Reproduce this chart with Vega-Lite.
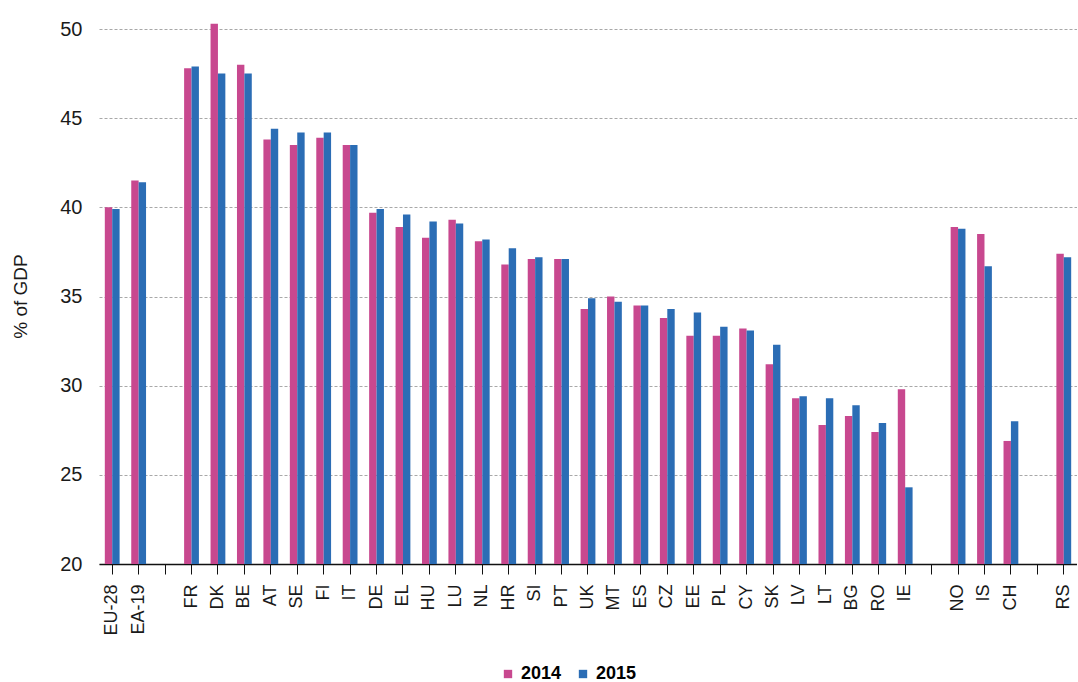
{
  "$schema": "https://vega.github.io/schema/vega-lite/v6.json",
  "width": 978,
  "height": 535,
  "padding": {"left": 11, "top": 19, "right": 0, "bottom": 0},
  "config": {"view": {"stroke": null}},
  "title": {"text": "% of GDP", "orient": "left", "anchor": "middle", "font": "Liberation Sans", "fontSize": 19, "fontWeight": "normal", "color": "#1a1a1a", "offset": 29},
  "data": {"values": [
    {"c":"EU-28","year":"2014","v":40.0},{"c":"EU-28","year":"2015","v":39.9},
    {"c":"EA-19","year":"2014","v":41.5},{"c":"EA-19","year":"2015","v":41.4},
    {"c":"FR","year":"2014","v":47.8},{"c":"FR","year":"2015","v":47.9},
    {"c":"DK","year":"2014","v":50.3},{"c":"DK","year":"2015","v":47.5},
    {"c":"BE","year":"2014","v":48.0},{"c":"BE","year":"2015","v":47.5},
    {"c":"AT","year":"2014","v":43.8},{"c":"AT","year":"2015","v":44.4},
    {"c":"SE","year":"2014","v":43.5},{"c":"SE","year":"2015","v":44.2},
    {"c":"FI","year":"2014","v":43.9},{"c":"FI","year":"2015","v":44.2},
    {"c":"IT","year":"2014","v":43.5},{"c":"IT","year":"2015","v":43.5},
    {"c":"DE","year":"2014","v":39.7},{"c":"DE","year":"2015","v":39.9},
    {"c":"EL","year":"2014","v":38.9},{"c":"EL","year":"2015","v":39.6},
    {"c":"HU","year":"2014","v":38.3},{"c":"HU","year":"2015","v":39.2},
    {"c":"LU","year":"2014","v":39.3},{"c":"LU","year":"2015","v":39.1},
    {"c":"NL","year":"2014","v":38.1},{"c":"NL","year":"2015","v":38.2},
    {"c":"HR","year":"2014","v":36.8},{"c":"HR","year":"2015","v":37.7},
    {"c":"SI","year":"2014","v":37.1},{"c":"SI","year":"2015","v":37.2},
    {"c":"PT","year":"2014","v":37.1},{"c":"PT","year":"2015","v":37.1},
    {"c":"UK","year":"2014","v":34.3},{"c":"UK","year":"2015","v":34.9},
    {"c":"MT","year":"2014","v":35.0},{"c":"MT","year":"2015","v":34.7},
    {"c":"ES","year":"2014","v":34.5},{"c":"ES","year":"2015","v":34.5},
    {"c":"CZ","year":"2014","v":33.8},{"c":"CZ","year":"2015","v":34.3},
    {"c":"EE","year":"2014","v":32.8},{"c":"EE","year":"2015","v":34.1},
    {"c":"PL","year":"2014","v":32.8},{"c":"PL","year":"2015","v":33.3},
    {"c":"CY","year":"2014","v":33.2},{"c":"CY","year":"2015","v":33.1},
    {"c":"SK","year":"2014","v":31.2},{"c":"SK","year":"2015","v":32.3},
    {"c":"LV","year":"2014","v":29.3},{"c":"LV","year":"2015","v":29.4},
    {"c":"LT","year":"2014","v":27.8},{"c":"LT","year":"2015","v":29.3},
    {"c":"BG","year":"2014","v":28.3},{"c":"BG","year":"2015","v":28.9},
    {"c":"RO","year":"2014","v":27.4},{"c":"RO","year":"2015","v":27.9},
    {"c":"IE","year":"2014","v":29.8},{"c":"IE","year":"2015","v":24.3},
    {"c":"NO","year":"2014","v":38.9},{"c":"NO","year":"2015","v":38.8},
    {"c":"IS","year":"2014","v":38.5},{"c":"IS","year":"2015","v":36.7},
    {"c":"CH","year":"2014","v":26.9},{"c":"CH","year":"2015","v":28.0},
    {"c":"RS","year":"2014","v":37.4},{"c":"RS","year":"2015","v":37.2}
  ]},
  "mark": {"type": "bar"},
  "encoding": {
    "x": {
      "field": "c", "type": "nominal", "sort": null,
      "scale": {
        "domain": ["EU-28","EA-19"," ","FR","DK","BE","AT","SE","FI","IT","DE","EL","HU","LU","NL","HR","SI","PT","UK","MT","ES","CZ","EE","PL","CY","SK","LV","LT","BG","RO","IE","  ","NO","IS","CH","   ","RS"],
        "paddingInner": 0.44, "paddingOuter": 0.22
      },
      "axis": {
        "title": null,
        "labelAngle": 270,
        "labelFont": "Liberation Sans", "labelFontSize": 18, "labelColor": "#1a1a1a",
        "labelPadding": 10,
        "domainColor": "#111", "domainWidth": 1.5,
        "tickColor": "#111", "tickSize": 10
      }
    },
    "xOffset": {"field": "year", "type": "nominal"},
    "y": {
      "field": "v", "type": "quantitative",
      "scale": {"domain": [20, 50], "zero": false, "nice": false},
      "axis": {
        "title": null,
        "tickCount": 6,
        "labelFont": "Liberation Sans", "labelFontSize": 20, "labelColor": "#1a1a1a",
        "labelPadding": 17, "tickSize": 0, "domainOpacity": 0,
        "gridColor": "#a8a8a8", "gridDash": [3, 2]
      }
    },
    "y2": {"datum": 20},
    "color": {
      "field": "year", "type": "nominal",
      "scale": {"domain": ["2014","2015"], "range": ["#C8488F", "#2B6DB5"]},
      "legend": {
        "title": null, "orient": "none", "direction": "horizontal",
        "legendX": 400, "legendY": 636,
        "symbolType": "square", "symbolSize": 70,
        "labelFont": "Liberation Sans", "labelFontSize": 18, "labelFontWeight": "bold",
        "columnPadding": 12
      }
    }
  }
}
